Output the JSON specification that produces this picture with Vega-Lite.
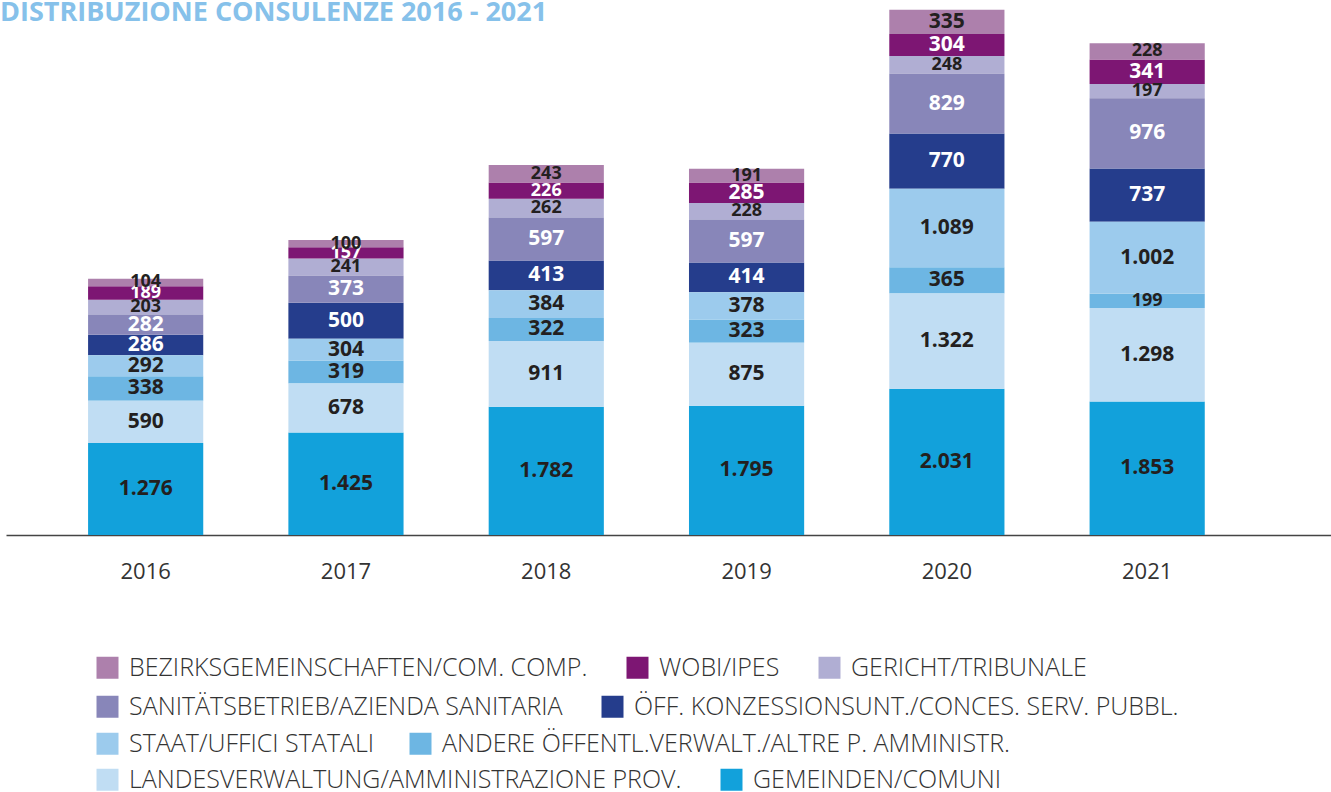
{
  "$schema": "https://vega.github.io/schema/vega-lite/v6.json",
  "width": 1325,
  "height": 535,
  "autosize": {"type": "none"},
  "padding": {"left": 6, "top": 0, "right": 0, "bottom": 257},
  "title": {
    "text": "DISTRIBUZIONE CONSULENZE 2016 - 2021",
    "anchor": "start",
    "frame": "group",
    "orient": "top",
    "font": "Open Sans",
    "fontSize": 27,
    "fontWeight": "bold",
    "color": "#86c1ea",
    "baseline": "top",
    "offset": 0,
    "dx": -6,
    "dy": 27
  },
  "config": {
    "view": {"stroke": null},
    "locale": {
      "number": {"decimal": ",", "thousands": ".", "grouping": [3], "currency": ["", " €"]}
    },
    "legend": {
      "symbolType": "square",
      "symbolSize": 484,
      "symbolStrokeWidth": 0,
      "labelFont": "Open Sans",
      "labelFontSize": 25,
      "labelFontWeight": 300,
      "labelColor": "#333333",
      "labelLimit": 0,
      "labelOffset": 9,
      "columnPadding": 37,
      "title": null
    }
  },
  "data": {
    "values": [
      {"year": "2016", "cat": "GEMEINDEN/COMUNI", "value": 1276},
      {"year": "2016", "cat": "LANDESVERWALTUNG/AMMINISTRAZIONE PROV.", "value": 590},
      {"year": "2016", "cat": "ANDERE ÖFFENTL.VERWALT./ALTRE P. AMMINISTR.", "value": 338},
      {"year": "2016", "cat": "STAAT/UFFICI STATALI", "value": 292},
      {"year": "2016", "cat": "ÖFF. KONZESSIONSUNT./CONCES. SERV. PUBBL.", "value": 286},
      {"year": "2016", "cat": "SANITÄTSBETRIEB/AZIENDA SANITARIA", "value": 282},
      {"year": "2016", "cat": "GERICHT/TRIBUNALE", "value": 203},
      {"year": "2016", "cat": "WOBI/IPES", "value": 189},
      {"year": "2016", "cat": "BEZIRKSGEMEINSCHAFTEN/COM. COMP.", "value": 104},
      {"year": "2017", "cat": "GEMEINDEN/COMUNI", "value": 1425},
      {"year": "2017", "cat": "LANDESVERWALTUNG/AMMINISTRAZIONE PROV.", "value": 678},
      {"year": "2017", "cat": "ANDERE ÖFFENTL.VERWALT./ALTRE P. AMMINISTR.", "value": 319},
      {"year": "2017", "cat": "STAAT/UFFICI STATALI", "value": 304},
      {"year": "2017", "cat": "ÖFF. KONZESSIONSUNT./CONCES. SERV. PUBBL.", "value": 500},
      {"year": "2017", "cat": "SANITÄTSBETRIEB/AZIENDA SANITARIA", "value": 373},
      {"year": "2017", "cat": "GERICHT/TRIBUNALE", "value": 241},
      {"year": "2017", "cat": "WOBI/IPES", "value": 157},
      {"year": "2017", "cat": "BEZIRKSGEMEINSCHAFTEN/COM. COMP.", "value": 100},
      {"year": "2018", "cat": "GEMEINDEN/COMUNI", "value": 1782},
      {"year": "2018", "cat": "LANDESVERWALTUNG/AMMINISTRAZIONE PROV.", "value": 911},
      {"year": "2018", "cat": "ANDERE ÖFFENTL.VERWALT./ALTRE P. AMMINISTR.", "value": 322},
      {"year": "2018", "cat": "STAAT/UFFICI STATALI", "value": 384},
      {"year": "2018", "cat": "ÖFF. KONZESSIONSUNT./CONCES. SERV. PUBBL.", "value": 413},
      {"year": "2018", "cat": "SANITÄTSBETRIEB/AZIENDA SANITARIA", "value": 597},
      {"year": "2018", "cat": "GERICHT/TRIBUNALE", "value": 262},
      {"year": "2018", "cat": "WOBI/IPES", "value": 226},
      {"year": "2018", "cat": "BEZIRKSGEMEINSCHAFTEN/COM. COMP.", "value": 243},
      {"year": "2019", "cat": "GEMEINDEN/COMUNI", "value": 1795},
      {"year": "2019", "cat": "LANDESVERWALTUNG/AMMINISTRAZIONE PROV.", "value": 875},
      {"year": "2019", "cat": "ANDERE ÖFFENTL.VERWALT./ALTRE P. AMMINISTR.", "value": 323},
      {"year": "2019", "cat": "STAAT/UFFICI STATALI", "value": 378},
      {"year": "2019", "cat": "ÖFF. KONZESSIONSUNT./CONCES. SERV. PUBBL.", "value": 414},
      {"year": "2019", "cat": "SANITÄTSBETRIEB/AZIENDA SANITARIA", "value": 597},
      {"year": "2019", "cat": "GERICHT/TRIBUNALE", "value": 228},
      {"year": "2019", "cat": "WOBI/IPES", "value": 285},
      {"year": "2019", "cat": "BEZIRKSGEMEINSCHAFTEN/COM. COMP.", "value": 191},
      {"year": "2020", "cat": "GEMEINDEN/COMUNI", "value": 2031},
      {"year": "2020", "cat": "LANDESVERWALTUNG/AMMINISTRAZIONE PROV.", "value": 1322},
      {"year": "2020", "cat": "ANDERE ÖFFENTL.VERWALT./ALTRE P. AMMINISTR.", "value": 365},
      {"year": "2020", "cat": "STAAT/UFFICI STATALI", "value": 1089},
      {"year": "2020", "cat": "ÖFF. KONZESSIONSUNT./CONCES. SERV. PUBBL.", "value": 770},
      {"year": "2020", "cat": "SANITÄTSBETRIEB/AZIENDA SANITARIA", "value": 829},
      {"year": "2020", "cat": "GERICHT/TRIBUNALE", "value": 248},
      {"year": "2020", "cat": "WOBI/IPES", "value": 304},
      {"year": "2020", "cat": "BEZIRKSGEMEINSCHAFTEN/COM. COMP.", "value": 335},
      {"year": "2021", "cat": "GEMEINDEN/COMUNI", "value": 1853},
      {"year": "2021", "cat": "LANDESVERWALTUNG/AMMINISTRAZIONE PROV.", "value": 1298},
      {"year": "2021", "cat": "ANDERE ÖFFENTL.VERWALT./ALTRE P. AMMINISTR.", "value": 199},
      {"year": "2021", "cat": "STAAT/UFFICI STATALI", "value": 1002},
      {"year": "2021", "cat": "ÖFF. KONZESSIONSUNT./CONCES. SERV. PUBBL.", "value": 737},
      {"year": "2021", "cat": "SANITÄTSBETRIEB/AZIENDA SANITARIA", "value": 976},
      {"year": "2021", "cat": "GERICHT/TRIBUNALE", "value": 197},
      {"year": "2021", "cat": "WOBI/IPES", "value": 341},
      {"year": "2021", "cat": "BEZIRKSGEMEINSCHAFTEN/COM. COMP.", "value": 228}
    ]
  },
  "transform": [
    {"stack": "value", "groupby": ["year"], "as": ["y0", "y1"]}
  ],
  "encoding": {
    "x": {
      "field": "year",
      "type": "nominal",
      "scale": {"paddingInner": 0.425, "paddingOuter": 0.52, "align": 0.394},
      "axis": {
        "title": null,
        "labelAngle": 0,
        "ticks": false,
        "labelPadding": 26,
        "labelFont": "Open Sans",
        "labelFontSize": 22,
        "labelColor": "#333333",
        "domainColor": "#444444",
        "domainWidth": 1.5,
        "grid": false
      }
    }
  },
  "layer": [
    {
      "transform": [{"filter": {"field": "cat", "oneOf": ["BEZIRKSGEMEINSCHAFTEN/COM. COMP.", "WOBI/IPES", "GERICHT/TRIBUNALE"]}}],
      "mark": {"type": "bar"},
      "encoding": {
        "y": {"field": "y0", "type": "quantitative", "scale": {"domain": [0, 7430], "nice": false}, "axis": null},
        "y2": {"field": "y1"},
        "color": {
          "field": "cat", "type": "nominal",
          "scale": {"domain": ["BEZIRKSGEMEINSCHAFTEN/COM. COMP.", "WOBI/IPES", "GERICHT/TRIBUNALE"], "range": ["#ad80ac", "#7d1673", "#b0aed3"]},
          "legend": {"orient": "none", "legendX": 89, "legendY": 655, "direction": "horizontal", "columns": 3}
        }
      }
    },
    {
      "transform": [{"filter": {"field": "cat", "oneOf": ["SANITÄTSBETRIEB/AZIENDA SANITARIA", "ÖFF. KONZESSIONSUNT./CONCES. SERV. PUBBL."]}}],
      "mark": {"type": "bar"},
      "encoding": {
        "y": {"field": "y0", "type": "quantitative", "scale": {"domain": [0, 7430], "nice": false}, "axis": null},
        "y2": {"field": "y1"},
        "color": {
          "field": "cat", "type": "nominal",
          "scale": {"domain": ["SANITÄTSBETRIEB/AZIENDA SANITARIA", "ÖFF. KONZESSIONSUNT./CONCES. SERV. PUBBL."], "range": ["#8886b9", "#253d8c"]},
          "legend": {"orient": "none", "legendX": 89, "legendY": 694, "direction": "horizontal", "columns": 2}
        }
      }
    },
    {
      "transform": [{"filter": {"field": "cat", "oneOf": ["STAAT/UFFICI STATALI", "ANDERE ÖFFENTL.VERWALT./ALTRE P. AMMINISTR."]}}],
      "mark": {"type": "bar"},
      "encoding": {
        "y": {"field": "y0", "type": "quantitative", "scale": {"domain": [0, 7430], "nice": false}, "axis": null},
        "y2": {"field": "y1"},
        "color": {
          "field": "cat", "type": "nominal",
          "scale": {"domain": ["STAAT/UFFICI STATALI", "ANDERE ÖFFENTL.VERWALT./ALTRE P. AMMINISTR."], "range": ["#9ccbed", "#6db6e3"]},
          "legend": {"orient": "none", "legendX": 89, "legendY": 731, "direction": "horizontal", "columns": 2, "columnPadding": 33}
        }
      }
    },
    {
      "transform": [{"filter": {"field": "cat", "oneOf": ["LANDESVERWALTUNG/AMMINISTRAZIONE PROV.", "GEMEINDEN/COMUNI"]}}],
      "mark": {"type": "bar"},
      "encoding": {
        "y": {"field": "y0", "type": "quantitative", "scale": {"domain": [0, 7430], "nice": false}, "axis": null},
        "y2": {"field": "y1"},
        "color": {
          "field": "cat", "type": "nominal",
          "scale": {"domain": ["LANDESVERWALTUNG/AMMINISTRAZIONE PROV.", "GEMEINDEN/COMUNI"], "range": ["#c0ddf3", "#12a1db"]},
          "legend": {"orient": "none", "legendX": 89, "legendY": 767, "direction": "horizontal", "columns": 2}
        }
      }
    },
    {
      "mark": {"type": "text", "font": "Open Sans", "fontWeight": "bold", "baseline": "middle"},
      "encoding": {
        "y": {"field": "value", "type": "quantitative", "stack": "zero", "bandPosition": 0.5, "scale": {"domain": [0, 7430], "nice": false}, "axis": null},
        "detail": {"field": "cat", "type": "nominal"},
        "order": {"field": "y0", "type": "quantitative"},
        "text": {"field": "value", "type": "quantitative", "format": ",d"},
        "size": {"condition": {"test": "datum.value < 270", "value": 18}, "value": 21},
        "color": {
          "condition": {"test": "indexof(['WOBI/IPES', 'SANITÄTSBETRIEB/AZIENDA SANITARIA', 'ÖFF. KONZESSIONSUNT./CONCES. SERV. PUBBL.'], datum.cat) >= 0", "value": "#ffffff"},
          "value": "#231f20"
        }
      }
    }
  ],
  "resolve": {"scale": {"color": "independent"}}
}
